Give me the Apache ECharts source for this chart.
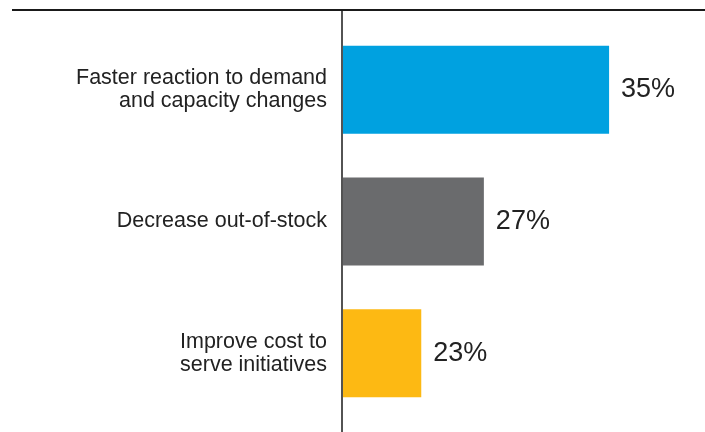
<!DOCTYPE html>
<html>
<head>
<meta charset="utf-8">
<script src="https://cdn.jsdelivr.net/npm/echarts@6/dist/echarts.min.js"></script>
<style>html,body{margin:0;padding:0;background:#fff;}#c{width:705px;height:432px;}</style>
</head>
<body>
<div id="c"></div>
<script>
const categories = ["Faster reaction to demand\nand capacity changes", "Decrease out-of-stock", "Improve cost to\nserve initiatives"];
const values = [35, 27, 23];
const colors = ["#00a1e0", "#6a6b6d", "#fdb913"];

const chart = echarts.init(document.getElementById('c'), null, {renderer: 'canvas'});
chart.setOption({
  animation: false,
  grid: {left: 343, right: 2, top: 24, height: 395},
  xAxis: {type: 'value', min: 18, max: 41, show: false},
  yAxis: {
    type: 'category', inverse: true, data: categories,
    axisLine: {show: false}, axisTick: {show: false},
    axisLabel: {margin: 16, fontSize: 21.5, lineHeight: 23, color: '#222', fontFamily: 'Liberation Sans', align: 'right'}
  },
  series: [{
    type: 'bar', barWidth: 88,
    data: values.map((v, i) => ({value: v, itemStyle: {color: colors[i]}})),
    label: {show: true, position: 'right', distance: 12, formatter: '{c}%', fontSize: 27, color: '#222', fontFamily: 'Liberation Sans'}
  }],
  graphic: [
    {type: 'line', shape: {x1: 12, y1: 10, x2: 705, y2: 10}, style: {stroke: '#1a1a1a', lineWidth: 2}},
    {type: 'line', shape: {x1: 342, y1: 10, x2: 342, y2: 432}, style: {stroke: '#1a1a1a', lineWidth: 1.5}}
  ]
});
</script>
</body>
</html>
